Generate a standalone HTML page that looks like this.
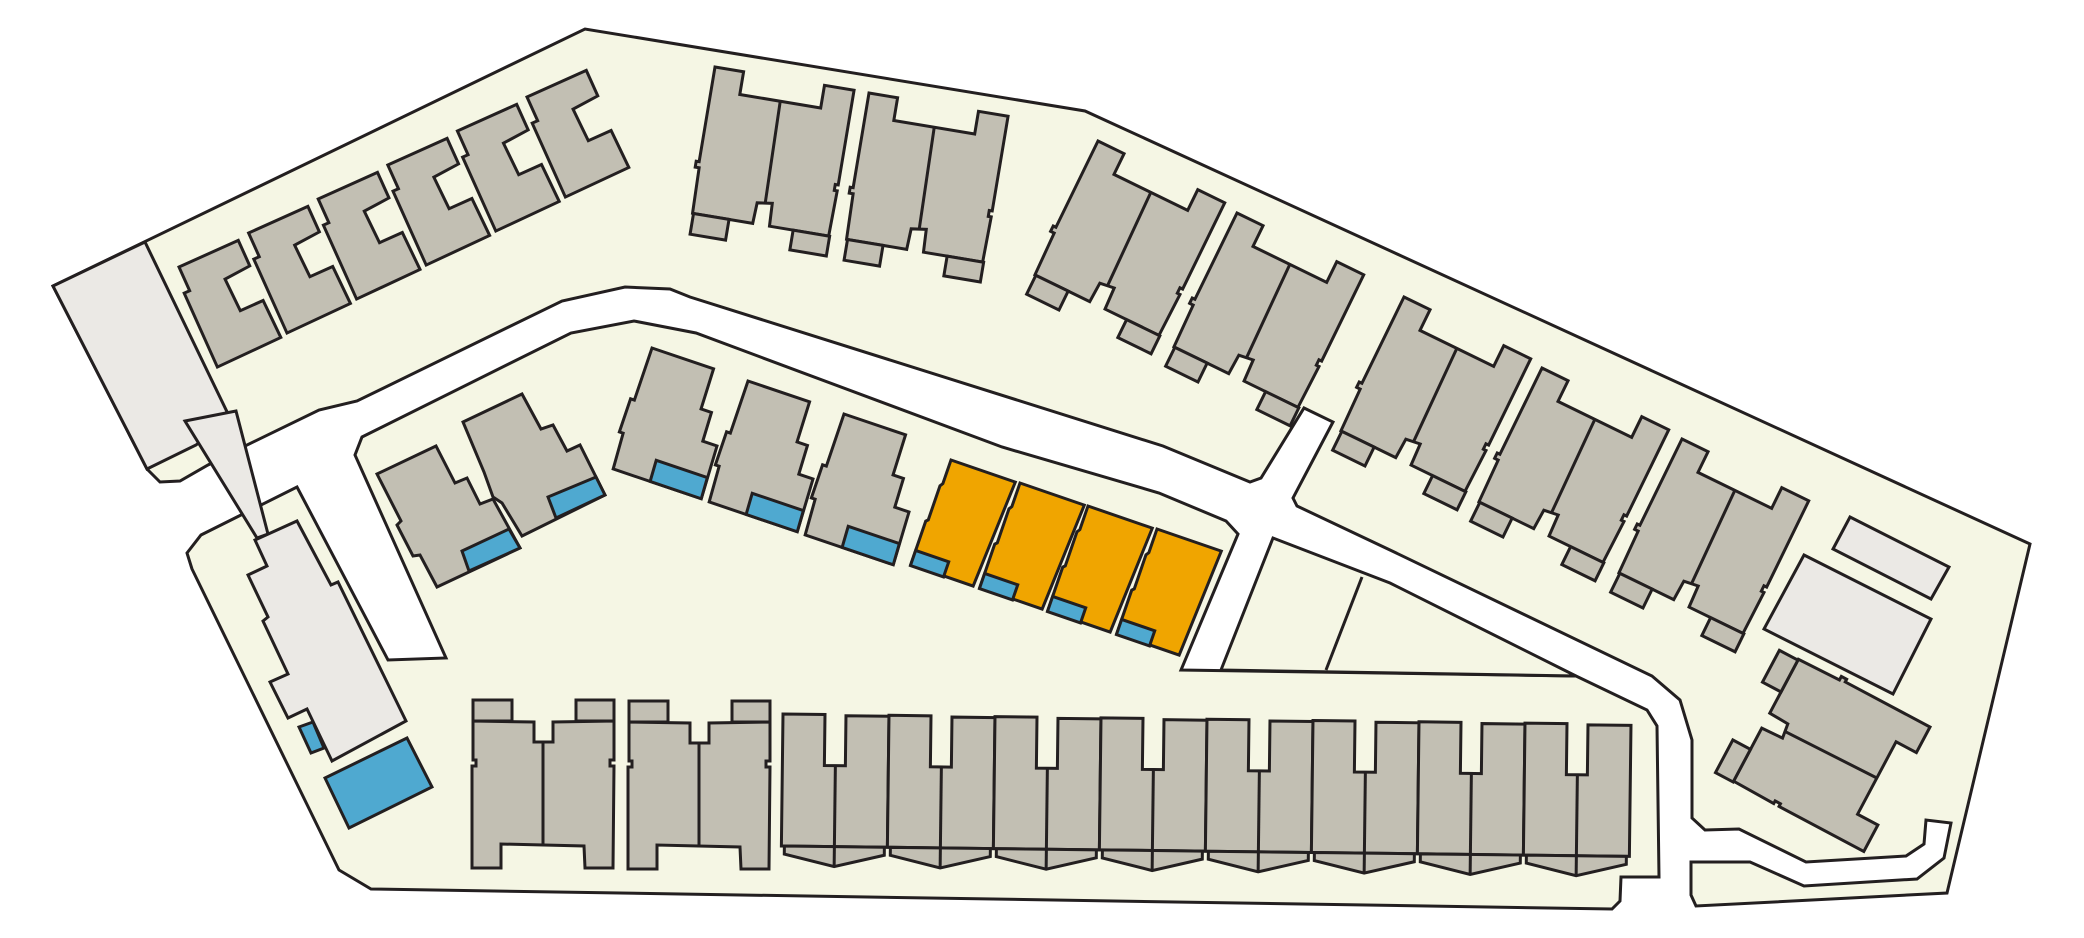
<!DOCTYPE html>
<html><head><meta charset="utf-8"><style>
html,body{margin:0;padding:0;background:#fff;}
svg{display:block;}
</style></head><body>
<svg width="2084" height="938" viewBox="0 0 2084 938" xmlns="http://www.w3.org/2000/svg">
<defs>
<g id="pair">
  <path d="M0,0 L29,0 L29,23 L111,23 L111,0 L141,0 L141,96 L138,96 L138,102 L141,102 L140,148 L80,148 L79,125 L64,127 L63,148 L2,148 L1,102 L-3,102 L-3,96 L0,96 Z" fill="#c2bfb3"/>
  <path d="M70,23 L72,126" fill="none"/>
  <rect x="3" y="148" width="36" height="21" fill="#c2bfb3"/>
  <rect x="104" y="148" width="37" height="20" fill="#c2bfb3"/>
</g>
<g id="cb">
  <path d="M0,0 L65,0 L65,28 L37,30 L38,65 L63,65 L64,106 L-6,107 L-6,26 L0,26 Z" fill="#c2bfb3"/>
</g>
<g id="nb">
  <path d="M0,0 L65,0 L66,42 L77,42 L78,72 L93,72 L95,127 L2,127 L0,90 L-4,90 L-4,55 L0,55 Z" fill="#c2bfb3"/>
  <path d="M40,105 L94,105 L95,127 L41,127 Z" fill="#4fa9d0"/>
</g>
<g id="ob">
  <path d="M0,0 L68,0 L62,112 L-4,112 L-4,66 L-2,64 L-2,28 L0,25 Z" fill="#f0a500"/>
  <path d="M-4,97 L31,97 L31,113 L-4,113 Z" fill="#4fa9d0"/>
</g>
<g id="wb">
  <path d="M0,0 L42,0 L42,51 L63,51 L63,1 L106,1 L106,132 L0,132 Z" fill="#c2bfb3"/>
  <path d="M53,51 V132" fill="none"/>
  <path d="M3,132 L3,140 L53,152 L103,140 L103,132 Z" fill="#c2bfb3"/>
  <path d="M53,132 V152" fill="none"/>
</g>
<g id="hb">
  <rect x="0" y="0" width="39" height="21" fill="#c2bfb3"/>
  <rect x="103" y="0" width="38" height="21" fill="#c2bfb3"/>
  <path d="M0,21 L61,22 L61,42 L80,42 L80,22 L141,21 L141,60 L137,60 L137,66 L141,66 L140,168 L112,168 L111,146 L28,144 L28,168 L-1,168 L-1,66 L3,66 L3,60 L0,60 Z" fill="#c2bfb3"/>
  <path d="M70,43 V144" fill="none"/>
</g>
</defs>
<g stroke="#231f20" stroke-width="3" stroke-linejoin="miter">
<!-- Block A -->
<path fill="#f5f6e4" d="M53,286 L585,29 L1085,111 L2030,544 L1947,893 L1696,906 L1691,895 L1691,862 L1750,862 L1804,886 L1917,879 L1944,858 L1951,823 L1926,820 L1924,844 L1906,856 L1806,862 L1739,829 L1705,830 L1692,818 L1692,740 L1680,700 L1652,676 L1390,550 L1297,506 L1293,498 L1333,422 L1304,408 L1261,478 L1250,482 L1163,446 L690,297 L670,289 L625,287 L562,301 L357,401 L319,410 L245,446 L208,465 L180,481 L160,482 L147,469 Z"/>
<!-- Block B -->
<path fill="#f5f6e4" d="M192,569 L187,553 L201,535 L237,517 L297,487 L388,660 L446,658 L355,455 L362,437 L571,333 L634,321 L696,333 L1002,447 L1159,493 L1226,521 L1238,534 L1181,670 L1576,676 L1647,710 L1657,726 L1659,877 L1621,877 L1620,901 L1612,909 L371,889 L339,870 Z"/>
<!-- Parcels -->
<path fill="#f5f6e4" d="M1221,670 L1273,538 L1390,583 L1576,676 Z"/>
<path fill="none" d="M1362,577 L1326,670"/>
<!-- left strip & wedge -->
<path fill="#ebe9e5" d="M53,286 L145,242 L230,418 L196,445 L147,469 Z"/>
<path fill="#ebe9e5" d="M185,421 L236,411 L268,534 L257,538 Z"/>
<!-- left L building -->
<path fill="#ebe9e5" d="M255,540 L297,521 L331,585 L338,582 L406,721 L332,761 L307,709 L288,718 L270,682 L288,674 L263,621 L268,617 L248,575 L267,566 Z"/>
<path fill="#4fa9d0" d="M299,727 L313,722 L324,748 L311,753 Z"/>
<path fill="#4fa9d0" d="M325,778 L407,738 L432,787 L349,828 Z"/>
<!-- M1, M2 -->
<path fill="#c2bfb3" d="M377,474 L436,446 L455,483 L467,478 L480,504 L493,499 L520,548 L437,587 L420,555 L413,556 L397,525 L401,521 Z"/>
<path fill="#4fa9d0" d="M462,551 L509,529 L520,548 L469,571 Z"/>
<path fill="#c2bfb3" d="M463,422 L522,394 L541,429 L553,425 L567,451 L580,445 L605,495 L522,536 L502,503 L493,497 L484,472 Z"/>
<path fill="#4fa9d0" d="M548,497 L596,477 L605,495 L556,518 Z"/>
<!-- right light rects -->
<path fill="#ebe9e5" d="M1850,517 L1949,567 L1931,599 L1833,549 Z"/>
<path fill="#ebe9e5" d="M1804,555 L1931,619 L1893,694 L1764,629 Z"/>
<!-- C buildings -->
<use href="#cb" transform="translate(179,267) rotate(-24.2)"/>
<use href="#cb" transform="translate(248.6,233) rotate(-24.2)"/>
<use href="#cb" transform="translate(318.2,199) rotate(-24.2)"/>
<use href="#cb" transform="translate(387.8,165) rotate(-24.2)"/>
<use href="#cb" transform="translate(457.4,131) rotate(-24.2)"/>
<use href="#cb" transform="translate(527,97) rotate(-24.2)"/>
<!-- T pairs -->
<use href="#pair" transform="translate(715,67) rotate(9.5)"/>
<use href="#pair" transform="translate(869,93) rotate(9.5)"/>
<!-- P pairs -->
<use href="#pair" transform="translate(1098,141) rotate(26)"/>
<use href="#pair" transform="translate(1237,213) rotate(26)"/>
<use href="#pair" transform="translate(1404,297) rotate(26)"/>
<use href="#pair" transform="translate(1542,368) rotate(26)"/>
<use href="#pair" transform="translate(1682,439) rotate(26)"/>
<!-- Q pair -->
<use href="#pair" transform="translate(1930,727) rotate(118)"/>
<!-- N -->
<use href="#nb" transform="translate(652,348) rotate(18.7)"/>
<use href="#nb" transform="translate(748,381) rotate(18.7)"/>
<use href="#nb" transform="translate(844,414) rotate(18.7)"/>
<!-- O -->
<use href="#ob" transform="translate(951,460) rotate(19)"/>
<use href="#ob" transform="translate(1020,483) rotate(19)"/>
<use href="#ob" transform="translate(1088,506) rotate(19)"/>
<use href="#ob" transform="translate(1157,529) rotate(19)"/>
<!-- H -->
<use href="#hb" transform="translate(473,700)"/>
<use href="#hb" transform="translate(629,701)"/>
<!-- W row -->
<use href="#wb" transform="translate(783,714) rotate(0.7)"/>
<use href="#wb" transform="translate(889,715.3) rotate(0.7)"/>
<use href="#wb" transform="translate(995,716.6) rotate(0.7)"/>
<use href="#wb" transform="translate(1101,717.9) rotate(0.7)"/>
<use href="#wb" transform="translate(1207,719.2) rotate(0.7)"/>
<use href="#wb" transform="translate(1313,720.5) rotate(0.7)"/>
<use href="#wb" transform="translate(1419,721.8) rotate(0.7)"/>
<use href="#wb" transform="translate(1525,723.1) rotate(0.7)"/>
</g>
</svg>
</body></html>
